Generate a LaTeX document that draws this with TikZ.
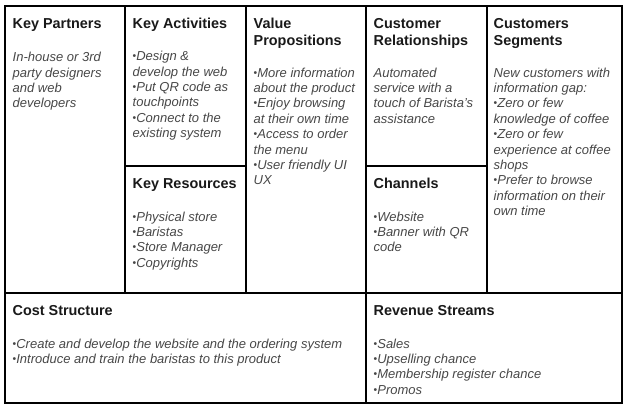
\documentclass[tikz,border=0pt]{standalone}
\usepackage{fontspec}
\setmainfont{Liberation Sans}
\usepackage{graphicx}
\usetikzlibrary{positioning}

\newcommand{\itembul}{{\upshape\raisebox{0.15ex}{\scalebox{0.8}{•}}}}

\begin{document}
\begin{tikzpicture}[
  x=1pt, y=-1pt,
  cell/.style={draw=black, line width=1.1pt},
  heading/.style={anchor=north west, inner sep=0pt, align=left,
    font=\fontsize{14.4}{16.8}\selectfont\bfseries, text=black!90},
  content/.style={anchor=north west, inner sep=0pt, align=left,
    font=\fontsize{13}{15.4}\selectfont\itshape, text=black!72}
]
\useasboundingbox (0,0) rectangle (629,411);

% canvas cells
\draw[cell] (5,6) rectangle (125,293);
\draw[cell] (125,6) rectangle (246,166);
\draw[cell] (125,166) rectangle (246,293);
\draw[cell] (246,6) rectangle (366,293);
\draw[cell] (366,6) rectangle (487,166);
\draw[cell] (366,166) rectangle (487,293);
\draw[cell] (487,6) rectangle (622,293);
\draw[cell] (5,293) rectangle (366,403);
\draw[cell] (366,293) rectangle (622,403);

% key partners
\node[heading] (partners) at (12.5,18) {Key Partners};
\node[content] (partnersText) at (12.5,52) {In-house or 3rd\\party designers\\and web\\developers};

% key activities
\node[heading] (activities) at (132.5,18) {Key Activities};
\node[content] (activitiesText) at (132.5,51) {\itembul Design \&\\develop the web\\\itembul Put QR code as\\touchpoints\\\itembul Connect to the\\existing system};

% key resources
\node[heading] (resources) at (132.5,178) {Key Resources};
\node[content] (resourcesText) at (132.5,211.5) {\itembul Physical store\\\itembul Baristas\\\itembul Store Manager\\\itembul Copyrights};

% value propositions
\node[heading] (value) at (253.5,18) {Value\\Propositions};
\node[content] (valueText) at (253.5,67.5) {\itembul More information\\about the product\\\itembul Enjoy browsing\\at their own time\\\itembul Access to order\\the menu\\\itembul User friendly UI\\UX};

% customer relationships
\node[heading] (relations) at (373.5,18) {Customer\\Relationships};
\node[content] (relationsText) at (373.5,67.5) {Automated\\service with a\\touch of Barista's\\assistance};

% channels
\node[heading] (channels) at (373.5,178) {Channels};
\node[content] (channelsText) at (373.5,211.5) {\itembul Website\\\itembul Banner with QR\\code};

% customer segments
\node[heading] (segments) at (493.5,18) {Customers\\Segments};
\node[content] (segmentsText) at (493.5,67.5) {New customers with\\information gap:\\\itembul Zero or few\\knowledge of coffee\\\itembul Zero or few\\experience at coffee\\shops\\\itembul Prefer to browse\\information on their\\own time};

% cost structure
\node[heading] (cost) at (12.5,305) {Cost Structure};
\node[content] (costText) at (12.5,338.5) {\itembul Create and develop the website and the ordering system\\\itembul Introduce and train the baristas to this product};

% revenue streams
\node[heading] (revenue) at (373.5,305) {Revenue Streams};
\node[content] (revenueText) at (373.5,338.5) {\itembul Sales\\\itembul Upselling chance\\\itembul Membership register chance\\\itembul Promos};
\end{tikzpicture}
\end{document}
